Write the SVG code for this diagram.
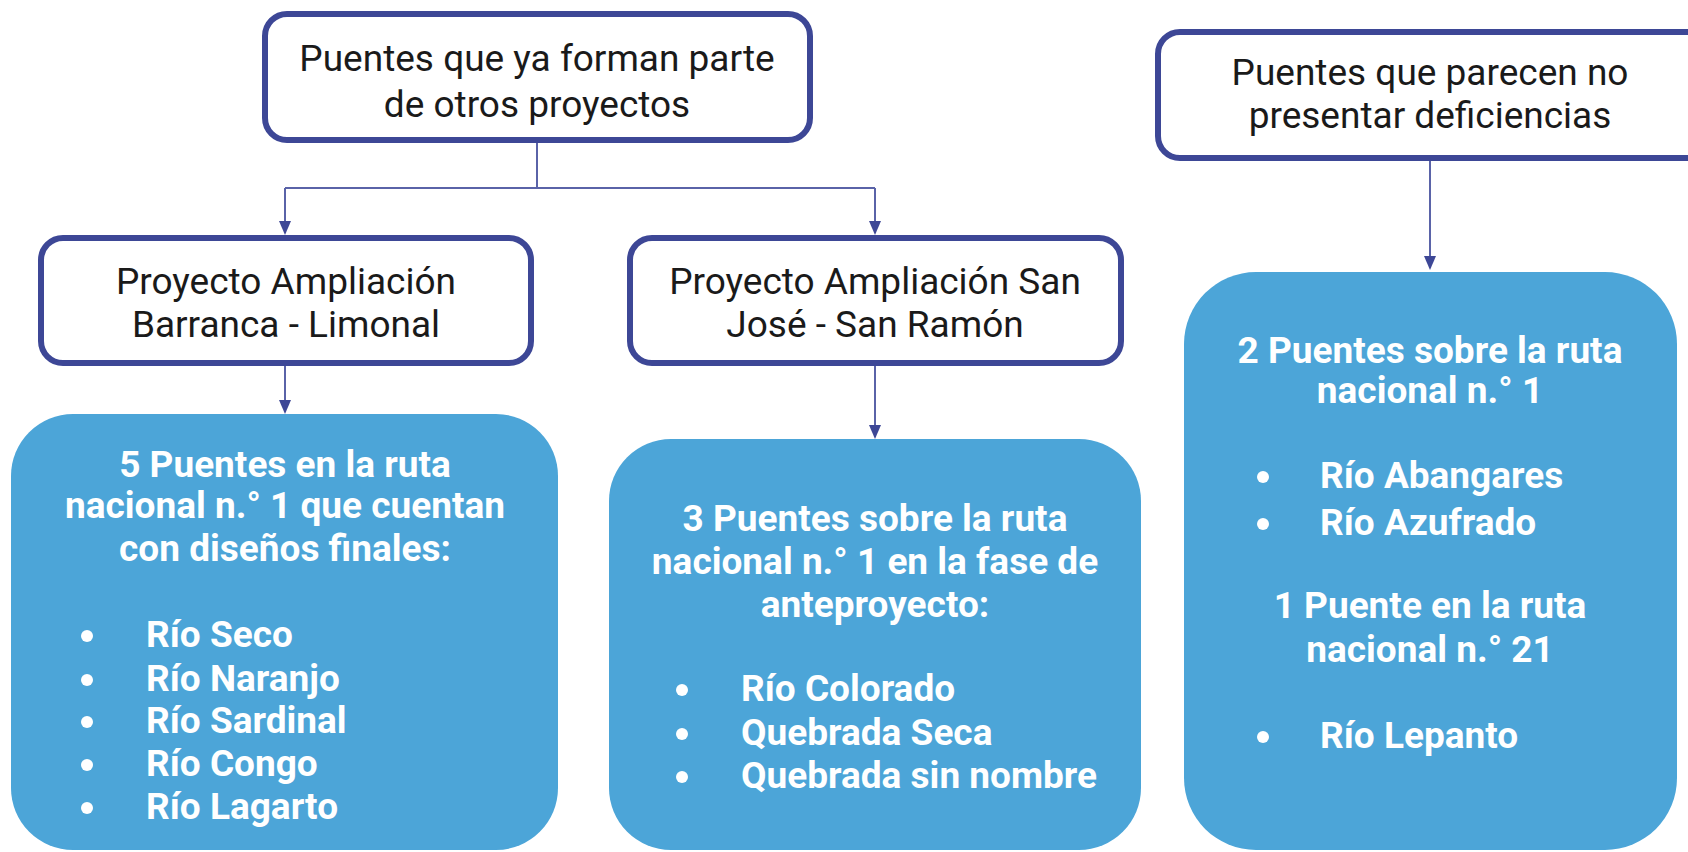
<svg xmlns="http://www.w3.org/2000/svg" width="1688" height="852" viewBox="0 0 1688 852">
<defs>
<style>
.ob{fill:#ffffff;stroke:#3d4796;stroke-width:6}
.bb{fill:#4ca5d8;stroke:none}
.t{font-family:Roboto,"Noto Sans",sans-serif;font-size:37px;fill:#1a1a1a;text-anchor:middle}
.w{font-family:Roboto,"Noto Sans",sans-serif;font-size:37px;font-weight:bold;fill:#ffffff}
.c{text-anchor:middle}
.bul{fill:#ffffff}
.ln{fill:none;stroke:#5a63a8;stroke-width:2}
</style>
</defs>
<rect width="1688" height="852" fill="#ffffff"/>
<g id="connectors">
<path class="ln" d="M537,143 V188"/>
<path class="ln" d="M285,188 H875"/>
<path class="ln" d="M285,188 V221"/>
<path d="M279,221 L291,221 L285,235 Z" fill="#3d4796"/>
<path class="ln" d="M875,188 V221"/>
<path d="M869,221 L881,221 L875,235 Z" fill="#3d4796"/>
<path class="ln" d="M285,366 V400"/>
<path d="M279,400 L291,400 L285,414 Z" fill="#3d4796"/>
<path class="ln" d="M875,366 V425"/>
<path d="M869,425 L881,425 L875,439 Z" fill="#3d4796"/>
<path class="ln" d="M1430,161 V256"/>
<path d="M1424,256 L1436,256 L1430,270 Z" fill="#3d4796"/>
</g>
<g id="node-otros">
<rect class="ob" x="265" y="14" width="545" height="126" rx="22"/>
<text class="t" x="537" y="71">Puentes que ya forman parte</text>
<text class="t" x="537" y="117">de otros proyectos</text>
</g>
<g id="node-nodef">
<rect class="ob" x="1158" y="32" width="560" height="126" rx="22"/>
<text class="t" x="1430" y="85">Puentes que parecen no</text>
<text class="t" x="1430" y="128">presentar deficiencias</text>
</g>
<g id="node-barranca">
<rect class="ob" x="41" y="238" width="490" height="125" rx="22"/>
<text class="t" x="286" y="294">Proyecto Ampliación</text>
<text class="t" x="286" y="337">Barranca - Limonal</text>
</g>
<g id="node-sanjose">
<rect class="ob" x="630" y="238" width="491" height="125" rx="22"/>
<text class="t" x="875" y="294">Proyecto Ampliación San</text>
<text class="t" x="875" y="337">José - San Ramón</text>
</g>
<g id="node-cinco">
<rect class="bb" x="11" y="414" width="547" height="436" rx="62"/>
<text class="w c" x="285" y="477">5 Puentes en la ruta</text>
<text class="w c" x="285" y="518">nacional n.° 1 que cuentan</text>
<text class="w c" x="285" y="561">con diseños finales:</text>
<circle class="bul" cx="87" cy="636" r="6"/>
<circle class="bul" cx="87" cy="680" r="6"/>
<circle class="bul" cx="87" cy="722" r="6"/>
<circle class="bul" cx="87" cy="765" r="6"/>
<circle class="bul" cx="87" cy="808" r="6"/>
<text class="w" x="146" y="647">Río Seco</text>
<text class="w" x="146" y="691">Río Naranjo</text>
<text class="w" x="146" y="733">Río Sardinal</text>
<text class="w" x="146" y="776">Río Congo</text>
<text class="w" x="146" y="819">Río Lagarto</text>
</g>
<g id="node-tres">
<rect class="bb" x="609" y="439" width="532" height="411" rx="62"/>
<text class="w c" x="875" y="531">3 Puentes sobre la ruta</text>
<text class="w c" x="875" y="574">nacional n.° 1 en la fase de</text>
<text class="w c" x="875" y="617">anteproyecto:</text>
<circle class="bul" cx="682" cy="690" r="6"/>
<circle class="bul" cx="682" cy="734" r="6"/>
<circle class="bul" cx="682" cy="777" r="6"/>
<text class="w" x="741" y="701">Río Colorado</text>
<text class="w" x="741" y="745">Quebrada Seca</text>
<text class="w" x="741" y="788">Quebrada sin nombre</text>
</g>
<g id="node-dos">
<rect class="bb" x="1184" y="272" width="493" height="578" rx="72"/>
<text class="w c" x="1430" y="363">2 Puentes sobre la ruta</text>
<text class="w c" x="1430" y="403">nacional n.° 1</text>
<circle class="bul" cx="1263" cy="477" r="6"/>
<circle class="bul" cx="1263" cy="524" r="6"/>
<text class="w" x="1320" y="488">Río Abangares</text>
<text class="w" x="1320" y="535">Río Azufrado</text>
<text class="w c" x="1430" y="618">1 Puente en la ruta</text>
<text class="w c" x="1430" y="662">nacional n.° 21</text>
<circle class="bul" cx="1263" cy="737" r="6"/>
<text class="w" x="1320" y="748">Río Lepanto</text>
</g>
</svg>
